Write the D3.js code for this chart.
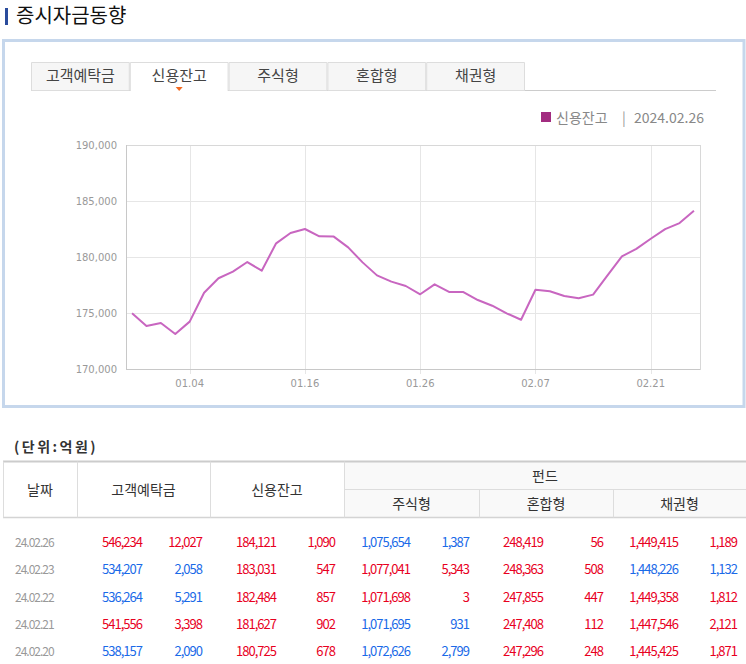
<!DOCTYPE html>
<html>
<head>
<meta charset="utf-8">
<script src="https://cdn.jsdelivr.net/npm/d3@7"></script>
<style>
  body { margin: 0; background: #fff; }
  svg { display: block; }
</style>
</head>
<body>
<svg id="chart"></svg>
<script>
// 신용잔고 daily series (억원)
const dates = [
  "12.27", "12.28", "01.02", "01.03", "01.04", "01.05", "01.08", "01.09", "01.10", "01.11",
  "01.12", "01.15", "01.16", "01.17", "01.18", "01.19", "01.22", "01.23", "01.24", "01.25",
  "01.26", "01.29", "01.30", "01.31", "02.01", "02.02", "02.05", "02.06", "02.07", "02.08",
  "02.13", "02.14", "02.15", "02.16", "02.19", "02.20", "02.21", "02.22", "02.23", "02.26"
];
const creditValues = [
  174970, 173840, 174110, 173130, 174230, 176810, 178100, 178690, 179550, 178780,
  181220, 182140, 182500, 181850, 181820, 180860, 179520, 178360, 177800, 177410,
  176670, 177560, 176880, 176870, 176160, 175650, 174970, 174400, 177080, 176940,
  176520, 176310, 176640, 178360, 180060, 180725, 181627, 182484, 183031, 184121
];
const xTickLabels = ["01.04", "01.16", "01.26", "02.07", "02.21"];
const yTicks = [170000, 175000, 180000, 185000, 190000];

const tabs = ["고객예탁금", "신용잔고", "주식형", "혼합형", "채권형"];
const activeTab = "신용잔고";

// table rows (signed change: + red, - blue)
const rowDates = ["24.02.26", "24.02.23", "24.02.22", "24.02.21", "24.02.20"];
const depositVal = [546234, 534207, 536264, 541556, 538157];
const depositChg = [12027, -2058, -5291, 3398, -2090];
const creditVal = [184121, 183031, 182484, 181627, 180725];
const creditChg = [1090, 547, 857, 902, 678];
const stockVal = [1075654, 1077041, 1071698, 1071695, 1072626];
const stockChg = [-1387, 5343, 3, -931, -2799];
const mixedVal = [248419, 248363, 247855, 247408, 247296];
const mixedChg = [56, 508, 447, 112, 248];
const bondVal = [1449415, 1448226, 1449358, 1447546, 1445425];
const bondChg = [1189, -1132, 1812, 2121, 1871];

const W = 746, H = 664;
const KR = "'Noto Sans CJK KR', 'Noto Sans', sans-serif";
const svg = d3.select("#chart").attr("width", W).attr("height", H);

// ---- title ----
svg.append("rect").attr("x", 5).attr("y", 8).attr("width", 3).attr("height", 17).attr("fill", "#2a4c9c");
svg.append("text").attr("x", 16).attr("y", 23)
  .style("font-family", KR).style("font-size", "20px").attr("fill", "#111")
  .text("증시자금동향");

// ---- chart box ----
svg.append("rect").attr("x", 3.5).attr("y", 40.5).attr("width", 740.5).attr("height", 366)
  .attr("fill", "#fff").attr("stroke", "#c6d7ec").attr("stroke-width", 3);

// tabs
const tabX = d3.scaleBand().domain(tabs).range([31, 525]);
svg.append("line").attr("x1", 31).attr("x2", 716).attr("y1", 90.5).attr("y2", 90.5)
  .attr("stroke", "#ccc");
const tabG = svg.selectAll(".tab").data(tabs).join("g").attr("class", "tab");
tabG.append("path")
  .attr("d", d => {
    const x0 = tabX(d) + 0.5, x1 = tabX(d) + tabX.bandwidth() - 0.5;
    return d === activeTab
      ? `M${x0},91 V62.5 H${x1} V91`
      : `M${x0},90.5 V62.5 H${x1} V90.5 Z`;
  })
  .attr("fill", d => d === activeTab ? "#fff" : "#f6f6f6")
  .attr("stroke", "#ddd");
tabG.append("text")
  .attr("x", d => tabX(d) + tabX.bandwidth() / 2).attr("y", 81)
  .attr("text-anchor", "middle")
  .style("font-family", KR).style("font-size", "15px").attr("fill", "#444")
  .text(d => d);
{
  const cx = tabX(activeTab) + tabX.bandwidth() / 2;
  svg.append("path").attr("d", `M${cx - 3.5},87 H${cx + 3.5} L${cx},91 Z`).attr("fill", "#f26a21");
}

// legend
svg.append("rect").attr("x", 541).attr("y", 112).attr("width", 10).attr("height", 10).attr("fill", "#a22c80");
svg.append("text").attr("x", 556).attr("y", 123)
  .style("font-family", KR).style("font-size", "14px").attr("fill", "#888")
  .text("신용잔고");
svg.append("text").attr("x", 622).attr("y", 123)
  .style("font-family", KR).style("font-size", "14px").attr("fill", "#999")
  .text("|");
svg.append("text").attr("x", 634).attr("y", 123)
  .style("font-family", KR).style("font-size", "14px").attr("fill", "#888")
  .text("2024.02.26");

// plot
const plot = { left: 126, right: 700, top: 145, bottom: 369 };
const x = d3.scalePoint().domain(dates).range([plot.left, plot.right]).padding(0.42);
const y = d3.scaleLinear().domain([170000, 190000]).range([plot.bottom, plot.top]);

const g = svg.append("g");
g.selectAll(".hgrid").data(yTicks).join("line")
  .attr("x1", plot.left).attr("x2", plot.right)
  .attr("y1", d => Math.round(y(d)) + 0.5).attr("y2", d => Math.round(y(d)) + 0.5)
  .attr("stroke", "#e6e6e6");
g.selectAll(".vgrid").data(xTickLabels).join("line")
  .attr("x1", d => Math.round(x(d)) + 0.5).attr("x2", d => Math.round(x(d)) + 0.5)
  .attr("y1", plot.top).attr("y2", plot.bottom + 5)
  .attr("stroke", "#e6e6e6");
g.append("rect").attr("x", plot.left + 0.5).attr("y", plot.top + 0.5)
  .attr("width", plot.right - plot.left).attr("height", plot.bottom - plot.top)
  .attr("fill", "none").attr("stroke", "#d8d8d8");
g.append("line").attr("x1", plot.left + 0.5).attr("x2", plot.left + 0.5)
  .attr("y1", plot.top).attr("y2", plot.bottom + 0.5).attr("stroke", "#c8c8c8");
g.append("line").attr("x1", plot.left).attr("x2", plot.right)
  .attr("y1", plot.bottom + 0.5).attr("y2", plot.bottom + 0.5).attr("stroke", "#c8c8c8");

const fmt = d3.format(",");
g.selectAll(".ylab").data(yTicks).join("text")
  .attr("x", plot.left - 9).attr("y", d => y(d) + 4)
  .attr("text-anchor", "end")
  .style("font-family", "'DejaVu Sans', sans-serif").style("font-size", "10px").attr("fill", "#999")
  .text(d => fmt(d));
g.selectAll(".xlab").data(xTickLabels).join("text")
  .attr("x", d => x(d)).attr("y", plot.bottom + 18)
  .attr("text-anchor", "middle")
  .style("font-family", "'DejaVu Sans', sans-serif").style("font-size", "10px").attr("fill", "#999")
  .text(d => d);

const line = d3.line().x((d, i) => x(dates[i])).y(d => y(d));
g.append("path").datum(creditValues)
  .attr("d", line).attr("fill", "none")
  .attr("stroke", "#c866c0").attr("stroke-width", 2).attr("stroke-linejoin", "round");

// ---- table ----
svg.append("text").attr("x", 14).attr("y", 452)
  .style("font-family", KR).style("font-size", "14px").style("font-weight", "bold")
  .style("letter-spacing", "2.5px").attr("fill", "#333")
  .text("(단위:억원)");

const tTop = 461.5, tMid = 489.5, tBot = 517.5;
const colX = [3, 77, 210, 344, 479, 613, 746];
svg.append("rect").attr("x", colX[3]).attr("y", tTop).attr("width", W - colX[3]).attr("height", tBot - tTop)
  .attr("fill", "#f9f9f9");
svg.append("line").attr("x1", colX[0]).attr("x2", W).attr("y1", tTop).attr("y2", tTop)
  .attr("stroke", "#ccc").attr("stroke-width", 2);
svg.append("line").attr("x1", colX[0]).attr("x2", W).attr("y1", tBot).attr("y2", tBot)
  .attr("stroke", "#d4d4d4").attr("stroke-width", 1.5);
svg.append("line").attr("x1", colX[3]).attr("x2", W).attr("y1", tMid).attr("y2", tMid)
  .attr("stroke", "#ddd");
svg.append("line").attr("x1", colX[0] + 0.5).attr("x2", colX[0] + 0.5).attr("y1", tTop).attr("y2", tBot).attr("stroke", "#ddd");
[colX[1], colX[2], colX[3]].forEach(cx =>
  svg.append("line").attr("x1", cx + 0.5).attr("x2", cx + 0.5).attr("y1", tTop).attr("y2", tBot).attr("stroke", "#ddd"));
[colX[4], colX[5]].forEach(cx =>
  svg.append("line").attr("x1", cx + 0.5).attr("x2", cx + 0.5).attr("y1", tMid).attr("y2", tBot).attr("stroke", "#ddd"));

const hdr = (txt, cx, cy) => svg.append("text").attr("x", cx).attr("y", cy + 5)
  .attr("text-anchor", "middle").style("font-family", KR).style("font-size", "14px").attr("fill", "#333").text(txt);
hdr("날짜", (colX[0] + colX[1]) / 2, (tTop + tBot) / 2);
hdr("고객예탁금", (colX[1] + colX[2]) / 2, (tTop + tBot) / 2);
hdr("신용잔고", (colX[2] + colX[3]) / 2, (tTop + tBot) / 2);
hdr("펀드", (colX[3] + W) / 2, (tTop + tMid) / 2);
hdr("주식형", (colX[3] + colX[4]) / 2, (tMid + tBot) / 2);
hdr("혼합형", (colX[4] + colX[5]) / 2, (tMid + tBot) / 2);
hdr("채권형", (colX[5] + colX[6]) / 2, (tMid + tBot) / 2);

const rowY = d3.scaleBand().domain(rowDates).range([528, 665]);
const RED = "#e8001e", BLUE = "#1a6ae8";
const numStyle = sel => sel.style("font-family", KR).style("font-size", "13px")
  .style("letter-spacing", "-1px").attr("text-anchor", "end");

svg.selectAll(".rdate").data(rowDates).join("text")
  .attr("x", 15).attr("y", d => rowY(d) + rowY.bandwidth() / 2 + 5)
  .style("font-family", KR).style("font-size", "12px").style("letter-spacing", "-1px")
  .attr("fill", "#999").text(d => d);

const cols = [
  { vals: depositVal, chg: depositChg, vx: 142, cx: 202 },
  { vals: creditVal, chg: creditChg, vx: 276, cx: 335 },
  { vals: stockVal, chg: stockChg, vx: 410, cx: 469 },
  { vals: mixedVal, chg: mixedChg, vx: 543, cx: 603 },
  { vals: bondVal, chg: bondChg, vx: 678, cx: 737 }
];
cols.forEach(c => {
  rowDates.forEach((d, i) => {
    const col = c.chg[i] >= 0 ? RED : BLUE;
    const cy = rowY(d) + rowY.bandwidth() / 2 + 5;
    svg.append("text").call(numStyle).attr("x", c.vx).attr("y", cy).attr("fill", col).text(fmt(c.vals[i]));
    svg.append("text").call(numStyle).attr("x", c.cx).attr("y", cy).attr("fill", col).text(fmt(Math.abs(c.chg[i])));
  });
});
</script>
</body>
</html>
